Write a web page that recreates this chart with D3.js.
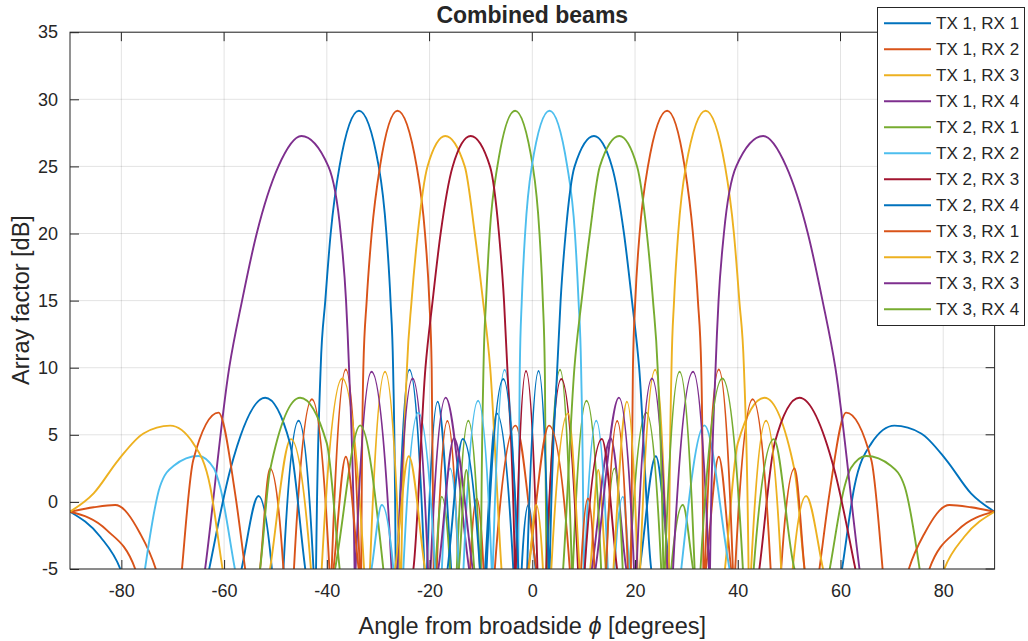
<!DOCTYPE html>
<meta charset="utf-8">
<script src="https://d3js.org/d3.v7.min.js"></script>
<style>
  body { margin: 0; background: #fff; }
  text { font-family: "Liberation Sans", Arial, Helvetica, sans-serif; fill: #262626; }
</style>
<div id="chart"></div>
<script>
// angle [deg], array factor [dB]; -30 marks where a line dips out below the axis
var tx1rx1 = [[-90,-0.73],[-84.1,-2.6],[-80.2,-5],[-68.4,-30],
  [-56.6,-5],[-53.3,0.44],[-50.7,-5],[-49.6,-30],
  [-48.45,-5],[-45.5,6.05],[-42.6,-5],[-42.35,-30],
  [-42.1,-5],[-41.2,10],[-40.3,15],[-39.25,20],[-37.53,25],[-33.75,29.15],[-29.9,25],[-28.4,20],[-27.6,15],[-27.1,10],[-26.6,-5],[-26.4,-30],
  [-26.2,-5],[-23.93,9.85],[-21.0,-5],[-20.75,-30],
  [-20.5,-5],[-18.42,7.47],[-15.8,-5],[-12.5,-30],
  [-9.2,-5],[-6.94,6.6],[-3.7,-5],[-2.9,-30],
  [-2.07,-5],[-0.77,-0.23],[0.65,-5],[10,-30],
  [20.9,-5],[24.05,3.4],[26.7,-5],[43,-30],
  [60.3,-5],[62.7,1.13],[66.0,4.36],[70.5,5.68],[75.7,5.1],[80.6,3.12],[85.4,0.64],[90,-0.73]];

var tx1rx2 = [[-90,-0.73],[-85.4,-0.4],[-81.2,-0.23],[-76.35,-2.35],[-73.3,-5],[-63,-30],
  [-53.0,-5],[-51.05,2.5],[-48.45,-5],[-47.4,-30],
  [-46.4,-5],[-42.9,7.65],[-39.5,-5],[-39.3,-30],
  [-39.05,-5],[-36.3,9.87],[-33.6,-5],[-33.45,-30],
  [-33.3,-5],[-32.89,10],[-32.24,15],[-31.27,20],[-29.65,25],[-26.25,29.15],[-22.51,25],[-20.89,20],[-20.05,15],[-19.59,10],[-19.2,-5],[-18.9,-30],
  [-18.6,-5],[-16.53,6.03],[-14.4,-5],[-13.2,-30],
  [-12.1,-5],[-10.83,0.26],[-9.5,-5],[-8.4,-30],
  [-7.3,-5],[-3.25,5.68],[0.8,-5],[17,-30],
  [33.8,-5],[36.3,3.37],[38.7,-5],[47,-30],
  [55.9,-5],[57.86,0.64],[61.1,6.65],[66.0,3.12],[68.2,-5],[72.7,-30],
  [77.3,-5],[82.84,-2.1],[90,-0.73]];

var tx1rx3 = [[-90,-30],[-60,-30],
  [-51.05,-5],[-47.0,4.68],[-43.1,-5],[-42.05,-30],
  [-41.0,-5],[-37.0,9.2],[-32.75,-5],[-32.2,-30],
  [-31.6,-5],[-28.67,9.7],[-25.8,-5],[-25.65,-30],
  [-25.5,-5],[-24.4,10],[-23.5,15],[-22.3,20],[-20.4,25],[-16.94,27.26],[-13.15,25],[-11.2,20],[-9.6,15],[-8.2,10],[-6.0,-5],[3,-30],
  [11.3,-5],[12.85,2.38],[14.3,-5],[26,-30],
  [37.5,-5],[40.0,4.36],[45.2,7.76],[51.05,2.37],[53.0,-5],[70,-30],[90,-30]];

var tx1rx4 = [[-90,-30],[-75,-30],
  [-63.7,-5],[-59.0,10],[-56.5,15],[-53.65,20],[-49.43,25],[-44.95,27.26],[-39.7,25],[-37.3,20],[-36.26,15],[-35.68,10],[-34.6,-5],[-34.5,-30],
  [-34.4,-5],[-31.3,9.7],[-27.4,-5],[-26.85,-30],
  [-26.3,-5],[-23.3,9.2],[-20.3,-5],[-20.05,-30],
  [-19.8,-5],[-16.86,7.77],[-12.3,-5],[0,-30],
  [11.6,-5],[15.24,4.74],[18.3,-5],[40,-30],[90,-30]];

var tx2rx1 = [[-90,-30],[-60,-30],
  [-38.4,-5],[-33.5,5.7],[-29.0,-5],[-23.9,-30],
  [-18.9,-5],[-17.64,0.39],[-16.0,-5],[-15.35,-30],
  [-14.7,-5],[-12.45,6.05],[-10.2,-5],[-10.1,-30],
  [-10.0,-5],[-9.5,10],[-9.0,15],[-8.3,20],[-6.8,25],[-3.35,29.15],[0.1,25],[1.4,20],[2.05,15],[2.43,10],[2.75,-5],[2.82,-30],
  [2.9,-5],[5.4,9.85],[7.7,-5],[7.8,-30],
  [7.9,-5],[10.55,7.54],[13.4,-5],[13.85,-30],
  [14.3,-5],[16.0,2.5],[17.6,-5],[18.27,-30],
  [18.94,-5],[22.2,6.65],[25.1,-5],[26.1,-30],
  [27.05,-5],[29.3,-0.23],[31.3,-5],[44,-30],
  [57.9,-5],[60.78,1.13],[62.0,2.5],[65.0,3.42],[69.8,2.7],[72.5,1.13],[75.4,-5],[82,-30],[90,-30]];

var tx2rx2 = [[-90,-30],[-82,-30],
  [-75.4,-5],[-72.5,1.13],[-69.8,2.7],[-65.0,3.42],[-62.0,2.5],[-60.78,1.13],[-57.9,-5],[-44,-30],
  [-31.3,-5],[-29.3,-0.23],[-27.05,-5],[-26.1,-30],
  [-25.1,-5],[-22.2,6.65],[-18.94,-5],[-18.27,-30],
  [-17.6,-5],[-16.0,2.5],[-14.3,-5],[-13.85,-30],
  [-13.4,-5],[-10.55,7.54],[-7.9,-5],[-7.8,-30],
  [-7.7,-5],[-5.4,9.85],[-2.9,-5],[-2.82,-30],
  [-2.75,-5],[-2.43,10],[-2.05,15],[-1.4,20],[-0.1,25],[3.35,29.15],[6.8,25],[8.3,20],[9.0,15],[9.5,10],[10.0,-5],[10.1,-30],
  [10.2,-5],[12.45,6.05],[14.7,-5],[15.35,-30],
  [16.0,-5],[17.64,0.39],[18.9,-5],[23.9,-30],
  [29.0,-5],[33.5,5.7],[38.4,-5],[60,-30],[90,-30]];

var tx2rx3 = [[-90,-30],[-40,-30],
  [-23.15,-5],[-20.8,10],[-19.4,15],[-17.85,20],[-15.5,25],[-12.0,27.26],[-8.24,25],[-6.49,20],[-5.51,15],[-4.86,10],[-3.4,-5],[-3.3,-30],
  [-3.2,-5],[-1.23,9.75],[1.0,-5],[1.86,-30],
  [2.72,-5],[5.64,9.16],[8.9,-5],[9.55,-30],
  [10.2,-5],[13.55,4.69],[16.5,-5],[30,-30],
  [44.2,-5],[47.2,4.4],[52.0,7.76],[58.8,2.4],[62.9,-5],[75,-30],[90,-30]];

var tx2rx4 = [[-90,-30],[-75,-30],
  [-62.9,-5],[-58.8,2.4],[-52.0,7.76],[-47.2,4.4],[-44.2,-5],[-30,-30],
  [-16.5,-5],[-13.55,4.69],[-10.2,-5],[-9.55,-30],
  [-8.9,-5],[-5.64,9.16],[-2.72,-5],[-1.86,-30],
  [-1.0,-5],[1.23,9.75],[3.2,-5],[3.3,-30],
  [3.4,-5],[4.86,10],[5.51,15],[6.49,20],[8.24,25],[12.0,27.26],[15.5,25],[17.85,20],[19.4,15],[20.8,10],[23.15,-5],[40,-30],[90,-30]];

var tx3rx1 = [[-90,-0.73],[-82.84,-2.1],[-77.3,-5],[-72.7,-30],
  [-68.2,-5],[-66.0,3.12],[-61.1,6.65],[-57.86,0.64],[-55.9,-5],[-47,-30],
  [-38.7,-5],[-36.3,3.37],[-33.8,-5],[-17,-30],
  [-0.8,-5],[3.25,5.68],[7.3,-5],[8.4,-30],
  [9.5,-5],[10.83,0.26],[12.1,-5],[13.2,-30],
  [14.4,-5],[16.53,6.03],[18.6,-5],[18.9,-30],
  [19.2,-5],[19.59,10],[20.05,15],[20.89,20],[22.51,25],[26.25,29.15],[29.65,25],[31.27,20],[32.24,15],[32.89,10],[33.3,-5],[33.45,-30],
  [33.6,-5],[36.3,9.87],[39.05,-5],[39.3,-30],
  [39.5,-5],[42.9,7.65],[46.4,-5],[47.4,-30],
  [48.45,-5],[51.05,2.5],[53.0,-5],[63,-30],
  [73.3,-5],[76.35,-2.35],[81.2,-0.23],[85.4,-0.4],[90,-0.73]];

var tx3rx2 = [[-90,-0.73],[-85.4,0.64],[-80.6,3.12],[-75.7,5.1],[-70.5,5.68],[-66.0,4.36],[-62.7,1.13],[-60.3,-5],[-43,-30],
  [-26.7,-5],[-24.05,3.4],[-20.9,-5],[-10,-30],
  [-0.65,-5],[0.77,-0.23],[2.07,-5],[2.9,-30],
  [3.7,-5],[6.94,6.6],[9.2,-5],[12.5,-30],
  [15.8,-5],[18.42,7.47],[20.5,-5],[20.75,-30],
  [21.0,-5],[23.93,9.85],[26.2,-5],[26.4,-30],
  [26.6,-5],[27.1,10],[27.6,15],[28.4,20],[29.9,25],[33.75,29.15],[37.53,25],[39.25,20],[40.3,15],[41.2,10],[42.1,-5],[42.35,-30],
  [42.6,-5],[45.5,6.05],[48.45,-5],[49.6,-30],
  [50.7,-5],[53.3,0.44],[56.6,-5],[68.4,-30],
  [80.2,-5],[84.1,-2.6],[90,-0.73]];

var tx3rx3 = [[-90,-30],[-40,-30],
  [-18.3,-5],[-15.24,4.74],[-11.6,-5],[0,-30],
  [12.3,-5],[16.86,7.77],[19.8,-5],[20.05,-30],
  [20.3,-5],[23.3,9.2],[26.3,-5],[26.85,-30],
  [27.4,-5],[31.3,9.7],[34.4,-5],[34.5,-30],
  [34.6,-5],[35.68,10],[36.26,15],[37.3,20],[39.7,25],[44.95,27.26],[49.43,25],[53.65,20],[56.5,15],[59.0,10],[63.7,-5],[75,-30],[90,-30]];

var tx3rx4 = [[-90,-30],[-70,-30],
  [-53.0,-5],[-51.05,2.37],[-45.2,7.76],[-40.0,4.36],[-37.5,-5],[-26,-30],
  [-14.3,-5],[-12.85,2.38],[-11.3,-5],[-3,-30],
  [6.0,-5],[8.2,10],[9.6,15],[11.2,20],[13.15,25],[16.94,27.26],[20.4,25],[22.3,20],[23.5,15],[24.4,10],[25.5,-5],[25.65,-30],
  [25.8,-5],[28.67,9.7],[31.6,-5],[32.2,-30],
  [32.75,-5],[37.0,9.2],[41.0,-5],[42.05,-30],
  [43.1,-5],[47.0,4.68],[51.05,-5],[90,-30]];

var names = ["TX 1, RX 1","TX 1, RX 2","TX 1, RX 3","TX 1, RX 4",
             "TX 2, RX 1","TX 2, RX 2","TX 2, RX 3","TX 2, RX 4",
             "TX 3, RX 1","TX 3, RX 2","TX 3, RX 3","TX 3, RX 4"];
var allSeries = [tx1rx1, tx1rx2, tx1rx3, tx1rx4, tx2rx1, tx2rx2, tx2rx3, tx2rx4, tx3rx1, tx3rx2, tx3rx3, tx3rx4];
var colors = ["#0072BD","#D95319","#EDB120","#7E2F8E","#77AC30","#4DBEEE","#A2142F"];
var xTicks = [-80,-60,-40,-20,0,20,40,60,80];
var yTicks = [-5,0,5,10,15,20,25,30,35];

var W = 1028, H = 641;
var pL = 70, pR = 994.6, pT = 32.2, pB = 569;

var svg = d3.select("#chart").append("svg")
    .attr("width", W).attr("height", H);

var x = d3.scaleLinear().domain([-90, 90]).range([pL, pR]);
var y = d3.scaleLinear().domain([-5, 35]).range([pB, pT]);

// grid
svg.append("g").selectAll("line").data(xTicks).enter().append("line")
    .attr("x1", function(d){ return x(d); }).attr("x2", function(d){ return x(d); })
    .attr("y1", pT).attr("y2", pB)
    .attr("stroke", "#262626").attr("stroke-opacity", 0.13);
svg.append("g").selectAll("line").data(yTicks).enter().append("line")
    .attr("x1", pL).attr("x2", pR)
    .attr("y1", function(d){ return y(d); }).attr("y2", function(d){ return y(d); })
    .attr("stroke", "#262626").attr("stroke-opacity", 0.13);

// curves
svg.append("clipPath").attr("id", "plotclip").append("rect")
    .attr("x", pL).attr("y", pT).attr("width", pR - pL).attr("height", pB - pT);

var line = d3.line()
    .curve(d3.curveMonotoneX)
    .x(function(d){ return x(d[0]); })
    .y(function(d){ return y(d[1]); });

svg.append("g").attr("clip-path", "url(#plotclip)")
  .selectAll("path").data(allSeries).enter().append("path")
    .attr("d", line)
    .attr("fill", "none")
    .attr("stroke", function(d, i){ return colors[i % 7]; })
    .attr("stroke-width", 1.9);

// axes (ticks pointing inward, box on)
var fmt = function(d){ return String(d); };
var xAxis = d3.axisBottom(x).tickValues(xTicks).tickFormat(fmt).tickSizeInner(-9).tickSizeOuter(0).tickPadding(15);
var yAxis = d3.axisLeft(y).tickValues(yTicks).tickFormat(fmt).tickSizeInner(-9).tickSizeOuter(0).tickPadding(12);

var gx = svg.append("g").attr("transform", "translate(0," + pB + ")").call(xAxis);
var gy = svg.append("g").attr("transform", "translate(" + pL + ",0)").call(yAxis);
[gx, gy].forEach(function(g){
  g.select(".domain").remove();
  g.selectAll(".tick line").attr("stroke", "#262626");
  g.selectAll(".tick text").attr("fill", "#262626").style("font-size", "18px")
    .style("font-family", '"Liberation Sans", Arial, sans-serif');
});
svg.append("g").selectAll("line").data(xTicks).enter().append("line")
    .attr("x1", function(d){ return x(d); }).attr("x2", function(d){ return x(d); })
    .attr("y1", pT).attr("y2", pT + 9).attr("stroke", "#262626");
svg.append("g").selectAll("line").data(yTicks).enter().append("line")
    .attr("x1", pR).attr("x2", pR - 9)
    .attr("y1", function(d){ return y(d); }).attr("y2", function(d){ return y(d); })
    .attr("stroke", "#262626");

svg.append("rect")
    .attr("x", pL).attr("y", pT).attr("width", pR - pL).attr("height", pB - pT)
    .attr("fill", "none").attr("stroke", "#262626").attr("stroke-width", 1);

// title and labels
svg.append("text").attr("x", (pL + pR) / 2).attr("y", 23)
    .attr("text-anchor", "middle").style("font-size", "23px").style("font-weight", "bold")
    .text("Combined beams");

var xl = svg.append("text").attr("x", (pL + pR) / 2).attr("y", 634)
    .attr("text-anchor", "middle").style("font-size", "23.5px");
xl.append("tspan").text("Angle from broadside  ");
xl.append("tspan").style("font-style", "italic").text("ϕ");
xl.append("tspan").text(" [degrees]");

svg.append("text").attr("transform", "translate(29,300) rotate(-90)")
    .attr("text-anchor", "middle").style("font-size", "23.5px")
    .text("Array factor [dB]");

// legend
var lg = svg.append("g");
lg.append("rect").attr("x", 877.5).attr("y", 7.5).attr("width", 147).attr("height", 318)
    .attr("fill", "#fff").attr("stroke", "#262626").attr("stroke-width", 1);
var rows = lg.selectAll("g.row").data(names).enter().append("g").attr("class", "row")
    .attr("transform", function(d, i){ return "translate(0," + (23.3 + i * 26) + ")"; });
rows.append("line").attr("x1", 884).attr("x2", 931).attr("y1", 0).attr("y2", 0)
    .attr("stroke", function(d, i){ return colors[i % 7]; }).attr("stroke-width", 1.9);
rows.append("text").attr("x", 936).attr("y", 6).style("font-size", "17px").text(function(d){ return d; });
</script>
